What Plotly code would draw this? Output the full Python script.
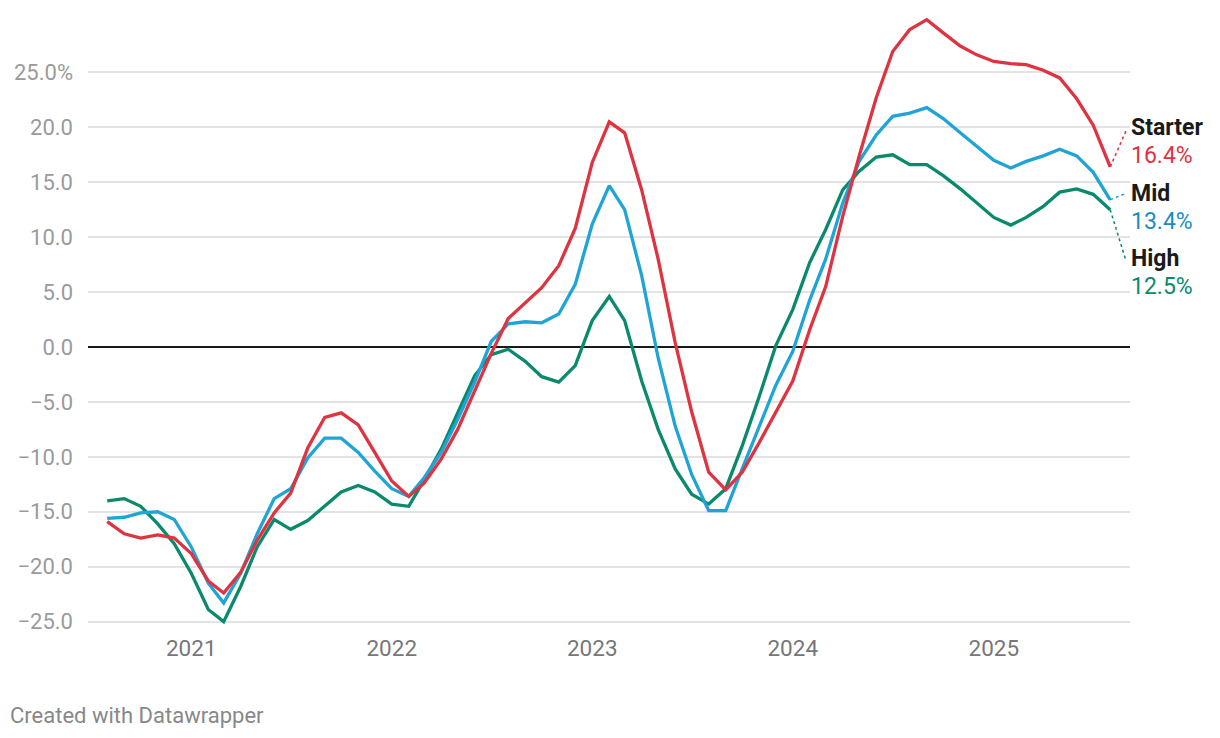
import pandas as pd
import plotly.graph_objects as go

months = pd.date_range("2020-08-01", periods=61, freq="MS")

starter = [-15.9, -17.0, -17.4, -17.1, -17.4, -18.8, -21.3, -22.4, -20.5, -17.6, -15.1, -13.3,
           -9.2, -6.4, -6.0, -7.1, -9.6, -12.2, -13.6, -12.4, -10.2, -7.5, -4.0, -0.6,
           2.6, 4.0, 5.4, 7.4, 10.8, 16.8, 20.5, 19.5, 14.3, 8.0, 0.4, -5.9,
           -11.4, -13.0, -11.4, -8.7, -6.0, -3.1, 1.6, 5.5, 11.9, 17.4, 22.7, 26.9,
           28.9, 29.8, 28.6, 27.4, 26.6, 26.0, 25.8, 25.7, 25.2, 24.5, 22.6, 20.2, 16.4]
mid = [-15.6, -15.5, -15.1, -15.0, -15.7, -18.2, -21.5, -23.3, -20.6, -17.0, -13.8, -12.9,
       -10.1, -8.3, -8.3, -9.6, -11.3, -12.9, -13.6, -11.9, -9.6, -6.6, -3.2, 0.5,
       2.1, 2.3, 2.2, 3.0, 5.7, 11.2, 14.7, 12.5, 6.5, -1.0, -7.2, -11.6,
       -14.9, -14.9, -11.1, -7.2, -3.5, -0.4, 4.3, 8.0, 13.1, 16.9, 19.3, 21.0,
       21.3, 21.8, 20.8, 19.5, 18.3, 17.0, 16.3, 16.9, 17.4, 18.0, 17.4, 15.9, 13.4]
high = [-14.0, -13.8, -14.5, -16.1, -17.9, -20.6, -23.9, -25.0, -21.8, -18.2, -15.7, -16.6,
        -15.8, -14.5, -13.2, -12.6, -13.2, -14.3, -14.5, -12.1, -9.3, -6.0, -2.6, -0.7,
        -0.2, -1.3, -2.7, -3.2, -1.7, 2.4, 4.6, 2.4, -3.1, -7.5, -11.1, -13.4,
        -14.3, -12.9, -9.0, -4.5, 0.1, 3.4, 7.7, 10.7, 14.3, 16.0, 17.3, 17.5,
        16.6, 16.6, 15.6, 14.4, 13.1, 11.8, 11.1, 11.8, 12.8, 14.1, 14.4, 13.9, 12.5]

series_names = ["Starter", "Mid", "High"]
line_colors = ["#de3341", "#1ea5d6", "#0a8a6c"]
text_colors = ["#de3341", "#1a8cc0", "#0a8a6c"]

y_ticks = [25, 20, 15, 10, 5, 0, -5, -10, -15, -20, -25]
y_ticktext = ["25.0%", "20.0", "15.0", "10.0", "5.0", "0.0", "\u22125.0", "\u221210.0",
              "\u221215.0", "\u221220.0", "\u221225.0"]
x_ticks = ["2021-01-01", "2022-01-01", "2023-01-01", "2024-01-01", "2025-01-01"]
x_ticktext = ["2021", "2022", "2023", "2024", "2025"]

FONT = "Roboto"

fig = go.Figure()
# draw High first, Starter last (on top)
for name, vals, col in reversed(list(zip(series_names, [starter, mid, high], line_colors))):
    fig.add_trace(go.Scatter(x=months, y=vals, mode="lines", name=name,
                             line=dict(color=col, width=3.3), hoverinfo="skip"))

last = months[-1]
label_x = pd.Timestamp("2025-09-05")
conn_x = pd.Timestamp("2025-08-30")
end_vals = [starter[-1], mid[-1], high[-1]]
label_name_y = [19.95, 14.0, 8.1]
label_val_y = [17.4, 11.4, 5.5]
conn_y = [19.7, 14.0, 7.8]

for i in range(3):
    fig.add_shape(type="line", xref="x", yref="y", x0=last, y0=end_vals[i],
                  x1=conn_x, y1=conn_y[i],
                  line=dict(color=line_colors[i], width=1.5, dash="dot"))
    fig.add_annotation(x=label_x, y=label_name_y[i], xref="x", yref="y",
                       text="<b>%s</b>" % series_names[i], showarrow=False,
                       xanchor="left", yanchor="middle", xshift=0,
                       font=dict(family=FONT, size=23, color="#1a1a1a"))
    fig.add_annotation(x=label_x, y=label_val_y[i], xref="x", yref="y",
                       text="%.1f%%" % end_vals[i], showarrow=False,
                       xanchor="left", yanchor="middle", xshift=0,
                       font=dict(family=FONT, size=23, color=text_colors[i]))

fig.add_annotation(x=0, y=0, xref="paper", yref="paper", xanchor="left", yanchor="top",
                   text="Created with Datawrapper", showarrow=False,
                   xshift=-80, yshift=-75,
                   font=dict(family=FONT, size=22, color="#888888"))

fig.update_layout(
    width=1220, height=738,
    margin=dict(l=88, r=90, t=12, b=112),
    plot_bgcolor="white", paper_bgcolor="white",
    showlegend=False,
    font=dict(family=FONT),
    xaxis=dict(range=[pd.Timestamp("2020-06-27"), pd.Timestamp("2025-09-06")],
               tickvals=x_ticks, ticktext=x_ticktext, showgrid=False, zeroline=False,
               showline=False, ticks="", ticklabelstandoff=6,
               tickfont=dict(family=FONT, size=22.5, color="#777777")),
    yaxis=dict(range=[-25.4, 30.5], tickvals=y_ticks, ticktext=y_ticktext,
               showgrid=True, gridcolor="#e3e3e3", gridwidth=1.5,
               zeroline=True, zerolinecolor="#1a1a1a", zerolinewidth=1.5,
               ticks="", ticklabelstandoff=14,
               tickfont=dict(family=FONT, size=22, color="#9a9a9a")),
)

fig.write_html("out.html", config={"displayModeBar": False},
               post_script="document.body.style.margin='0';")
